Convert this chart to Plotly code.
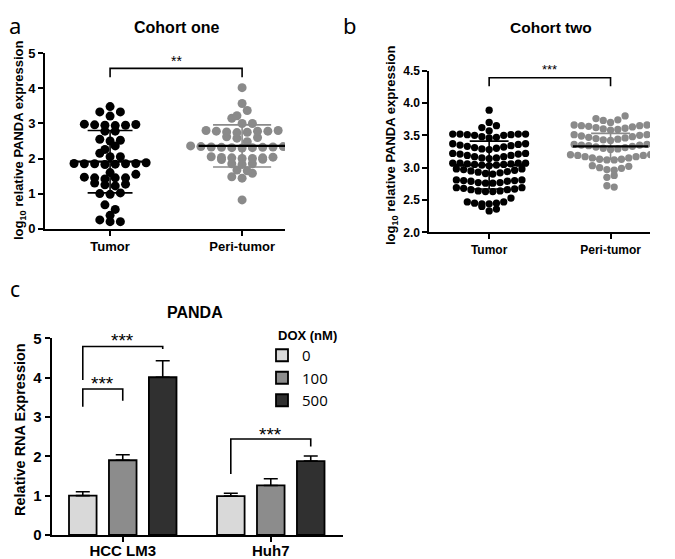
import plotly.graph_objects as go

# page body keeps an 8px margin, so the figure is drawn 8px smaller and offset
OFF = 8
W, H = 675 - OFF, 559 - OFF

# ---------------- data ----------------
# Panel a: Cohort one (log10 relative PANDA expression)
cohort1_tumor = [3.48, 3.33, 3.33, 3.21, 2.98, 2.95, 2.95, 2.96, 2.94, 2.97,
                 2.78, 2.78, 2.55, 2.50, 2.52, 2.36, 2.26, 2.15, 2.05, 2.05,
                 1.86, 1.85, 1.83, 1.88, 1.85, 1.84, 1.86, 1.85, 1.60, 1.55,
                 1.45, 1.47, 1.45, 1.45, 1.42, 1.30, 1.27, 1.25, 1.22, 1.02,
                 1.00, 0.98, 0.68, 0.55, 0.38, 0.25, 0.20, 0.20]
cohort1_peri = [0.82, 1.44, 1.48, 1.58, 1.65, 1.67, 1.83, 1.85, 1.85, 1.97,
                1.98, 2.00, 2.00, 2.02, 2.02, 2.03, 2.04, 2.05, 2.30, 2.31,
                2.31, 2.32, 2.32, 2.33, 2.33, 2.34, 2.34, 2.36, 2.36, 2.48,
                2.58, 2.60, 2.62, 2.74, 2.75, 2.76, 2.78, 2.78, 2.78, 2.80,
                2.80, 3.00, 3.00, 3.15, 3.22, 3.37, 3.57, 4.02]
cohort1_mean = [1.91, 2.36]
cohort1_sd = [0.89, 0.60]

# Panel b: Cohort two
cohort2_tumor = [3.89, 3.70, 3.62, 3.65, 3.57,
                 3.52, 3.52, 3.51, 3.50, 3.48, 3.46, 3.47, 3.50, 3.51, 3.52, 3.52,
                 3.37, 3.36, 3.34, 3.32, 3.30, 3.28, 3.29, 3.31, 3.33, 3.35, 3.37,
                 3.22, 3.21, 3.19, 3.17, 3.15, 3.14, 3.15, 3.17, 3.19, 3.21, 3.22,
                 3.07, 3.07, 3.06, 3.05, 3.04, 3.03, 3.04, 3.05, 3.06, 3.07, 3.07,
                 2.98, 2.97, 2.95, 2.93, 2.91, 2.90, 2.92, 2.94, 2.96, 2.98,
                 2.81, 2.80, 2.79, 2.77, 2.76, 2.76, 2.77, 2.79, 2.80, 2.81,
                 2.69, 2.68, 2.66, 2.64, 2.63, 2.63, 2.64, 2.66, 2.67, 2.69,
                 2.47, 2.45, 2.44, 2.53, 2.44, 2.45, 2.47,
                 2.33, 2.36, 2.40]
cohort2_peri = [3.80, 3.74, 3.70, 3.73, 3.76,
                3.66, 3.65, 3.64, 3.62, 3.60, 3.58, 3.59, 3.61, 3.63, 3.65, 3.66,
                3.51, 3.50, 3.48, 3.46, 3.44, 3.42, 3.43, 3.45, 3.47, 3.49, 3.51,
                3.36, 3.35, 3.34, 3.32, 3.30, 3.28, 3.29, 3.31, 3.33, 3.35, 3.36,
                3.20, 3.19, 3.17, 3.15, 3.13, 3.12, 3.12, 3.13, 3.15, 3.17, 3.19, 3.20,
                3.03, 3.00, 2.97, 2.96, 2.99, 3.02,
                2.88, 2.85, 2.70, 2.72]
cohort2_mean = [3.04, 3.33]
cohort2_sd = [0.37, 0.20]

group_labels = ["Tumor", "Peri-tumor"]
sig_ab = ["**", "***"]
sig_ab_y = [4.78, 4.52]

# Panel c: PANDA relative RNA expression
cell_lines = ["HCC LM3", "Huh7"]
dox_levels = ["0", "100", "500"]
rna_dox0 = [1.00, 0.99]
rna_dox100 = [1.90, 1.26]
rna_dox500 = [4.01, 1.88]
err_dox0 = [0.10, 0.07]
err_dox100 = [0.14, 0.17]
err_dox500 = [0.42, 0.13]
# brackets: (cell line index, from dose idx, to dose idx, top, left foot, right foot)
brackets_c = [(0, 0, 2, 4.79, 3.94, 4.73),
              (0, 0, 1, 3.71, 3.26, 3.41),
              (1, 0, 2, 2.44, 1.55, 2.25)]
sig_c = ["***", "***", "***"]
sig_c_y = [4.95, 3.84, 2.55]

# ---------------- helpers ----------------
def px(x):
    return (x - OFF) / W

def py(y):
    return 1 - (y - OFF) / H

def swarm_offsets(values, row_h, step):
    order = sorted(range(len(values)), key=lambda i: values[i])
    rows, cur, start = [], [], None
    for i in order:
        v = values[i]
        if cur and v - start > row_h:
            rows.append(cur)
            cur = []
        if not cur:
            start = v
        cur.append(i)
    if cur:
        rows.append(cur)
    offs = [0.0] * len(values)
    for r, row in enumerate(rows):
        n = len(row)
        slots = [(k - (n - 1) / 2) * step for k in range(n)]
        sgn = 1 if r % 2 else -1
        slots.sort(key=lambda s: (round(abs(s), 6), sgn * s))
        for idx, s in zip(row, slots):
            offs[idx] = s
    return offs

FONT = "Liberation Sans, Arial, sans-serif"
fig = go.Figure()

def add_scatter_panel(xa, ya, tumor, peri, mean, sd, row_h, step, msize,
                      mean_hw, sd_hw):
    colors = ["#000000", "#8a8a8a"]
    for g, vals in enumerate([tumor, peri]):
        offs = swarm_offsets(vals, row_h, step)
        fig.add_trace(go.Scatter(
            x=[g + o for o in offs], y=vals, mode="markers",
            marker=dict(color=colors[g], size=msize, line=dict(width=0)),
            xaxis=xa, yaxis=ya, showlegend=False, hoverinfo="y"))
    for g in range(2):
        m, s = mean[g], sd[g]
        sd_col = "#000000" if g == 0 else "#8a8a8a"
        fig.add_trace(go.Scatter(
            x=[g, g, None, g - sd_hw[g], g + sd_hw[g], None, g - sd_hw[g], g + sd_hw[g]],
            y=[m - s, m + s, None, m + s, m + s, None, m - s, m - s],
            mode="lines", line=dict(color=sd_col, width=1.6),
            xaxis=xa, yaxis=ya, showlegend=False, hoverinfo="skip"))
        fig.add_trace(go.Scatter(
            x=[g - mean_hw[g], g + mean_hw[g]], y=[m, m],
            mode="lines", line=dict(color="#000000", width=2.2),
            xaxis=xa, yaxis=ya, showlegend=False, hoverinfo="skip"))

add_scatter_panel("x", "y", cohort1_tumor, cohort1_peri, cohort1_mean, cohort1_sd,
                  0.15, 0.078, 9, [0.30, 0.33], [0.17, 0.22])
add_scatter_panel("x2", "y2", cohort2_tumor, cohort2_peri, cohort2_mean, cohort2_sd,
                  0.10, 0.060, 7.3, [0.31, 0.31], [0.16, 0.16])

YR = {"y": (0, 5), "y2": (2, 4.5), "y3": (0, 5)}

def add_stars(xa, ya, x, y, text, size):
    r0, r1 = YR[ya]
    fig.add_annotation(x=x, y=(y - r0) / (r1 - r0), xref=xa, yref=ya + " domain",
                       text=text, showarrow=False, xanchor="center", yanchor="middle",
                       font=dict(family=FONT, size=size, color="#000"))

# significance brackets panels a, b
for (xa, ya, top, foot, size), star, sy in zip([("x", "y", 4.57, 4.32, 14),
                                                 ("x2", "y2", 4.39, 4.26, 13)],
                                                sig_ab, sig_ab_y):
    fig.add_trace(go.Scatter(x=[0, 0, 1, 1], y=[foot, top, top, foot], mode="lines",
                             line=dict(color="#000000", width=1.6), cliponaxis=False,
                             xaxis=xa, yaxis=ya, showlegend=False, hoverinfo="skip"))
    add_stars(xa, ya, 0.5, sy, star, size)

# Panel c bars
bar_colors = ["#d9d9d9", "#8c8c8c", "#303030"]
for lvl, vals, errs, col in zip(dox_levels, [rna_dox0, rna_dox100, rna_dox500],
                                [err_dox0, err_dox100, err_dox500], bar_colors):
    fig.add_trace(go.Bar(
        x=[0, 1], y=vals, name=lvl, marker=dict(color=col, line=dict(color="#000", width=1.8)),
        error_y=dict(type="data", symmetric=False, array=errs, arrayminus=[0, 0],
                     color="#000", thickness=1.6, width=7),
        xaxis="x3", yaxis="y3", hoverinfo="y"))

BARGAP = 0.19
slot = (1 - BARGAP) / 3
for (ci, a, b, top, lf, rf), star, sy in zip(brackets_c, sig_c, sig_c_y):
    xl = ci + (a - 1) * slot
    xr = ci + (b - 1) * slot
    fig.add_trace(go.Scatter(x=[xl, xl, xr, xr], y=[lf, top, top, rf], mode="lines",
                             line=dict(color="#000", width=1.6), cliponaxis=False,
                             xaxis="x3", yaxis="y3", showlegend=False, hoverinfo="skip"))
    add_stars("x3", "y3", (xl + xr) / 2, sy, star, 19)

# ---------------- layout ----------------
axis_common = dict(showline=True, linecolor="#000", linewidth=2, ticks="outside",
                   ticklen=5, tickwidth=2, tickcolor="#000", showgrid=False,
                   zeroline=False, mirror=False, automargin=False)

fig.update_layout(
    width=W, height=H, margin=dict(l=0, r=0, t=0, b=0, autoexpand=False),
    paper_bgcolor="white", plot_bgcolor="white",
    barmode="group", bargap=BARGAP, bargroupgap=0.31,
    font=dict(family=FONT, color="#000"),
    xaxis=dict(domain=[px(45), px(285)], anchor="y", range=[-0.493, 1.325],
               tickvals=[0, 1], ticktext=group_labels,
               tickfont=dict(size=13, weight="bold"), **axis_common),
    yaxis=dict(domain=[py(228.7), py(53.3)], anchor="x", range=list(YR["y"]), dtick=1,
               tickfont=dict(size=13, weight="bold"), **axis_common),
    xaxis2=dict(domain=[px(429.3), px(650)], anchor="y2", range=[-0.493, 1.325],
                tickvals=[0, 1], ticktext=group_labels,
                tickfont=dict(size=12, weight="bold"), **axis_common),
    yaxis2=dict(domain=[py(232.3), py(70.7)], anchor="x2", range=list(YR["y2"]), dtick=0.5,
                tickformat=".1f", tickfont=dict(size=12, weight="bold"), **axis_common),
    xaxis3=dict(domain=[px(51.7), px(343.3)], anchor="y3", range=[-0.48, 1.49],
                tickvals=[0, 1], ticktext=cell_lines, ticklabelstandoff=-4,
                tickfont=dict(size=15, weight="bold"), **axis_common),
    yaxis3=dict(domain=[py(535), py(338.3)], anchor="x3", range=list(YR["y3"]), dtick=1,
                tickfont=dict(size=15, weight="bold"), **axis_common),
    legend=dict(x=px(262), y=py(339), xanchor="left", yanchor="top",
                font=dict(family="Open Sans, sans-serif", size=15, color="#000"),
                bgcolor="rgba(0,0,0,0)", tracegroupgap=0),
)

ann = [
    dict(text="a", x=px(15), y=1, yanchor="top", font=dict(family="Noto Sans", size=22)),
    dict(text="b", x=px(350), y=1, yanchor="top", font=dict(family="Noto Sans", size=22)),
    dict(text="c", x=px(15), y=py(289), font=dict(family="Noto Sans", size=21)),
    dict(text="<b>Cohort one</b>", x=px(176), y=py(28), font=dict(size=16)),
    dict(text="<b>Cohort two</b>", x=px(551), y=py(28), font=dict(size=15.5)),
    dict(text="<b>PANDA</b>", x=px(195), y=py(312), font=dict(size=16)),
    dict(text="<b>DOX (nM)</b>", x=px(307), y=py(335), font=dict(size=13)),
    dict(text="<b>log<sub>10</sub> relative PANDA expression</b>", x=px(19), y=py(141),
         textangle=-90, font=dict(size=13)),
    dict(text="<b>log<sub>10</sub> relative PANDA expression</b>", x=px(391), y=py(146),
         textangle=-90, font=dict(size=13)),
    dict(text="<b>Relative RNA Expression</b>", x=px(20), y=py(430),
         textangle=-90, font=dict(size=14.5)),
]
for a in ann:
    a.setdefault("xref", "paper")
    a.setdefault("yref", "paper")
    a.setdefault("showarrow", False)
    a.setdefault("xanchor", "center")
    a.setdefault("yanchor", "middle")
    a["font"].setdefault("family", FONT)
    a["font"].setdefault("color", "#000")
    fig.add_annotation(**a)

fig.write_html("out.html")
